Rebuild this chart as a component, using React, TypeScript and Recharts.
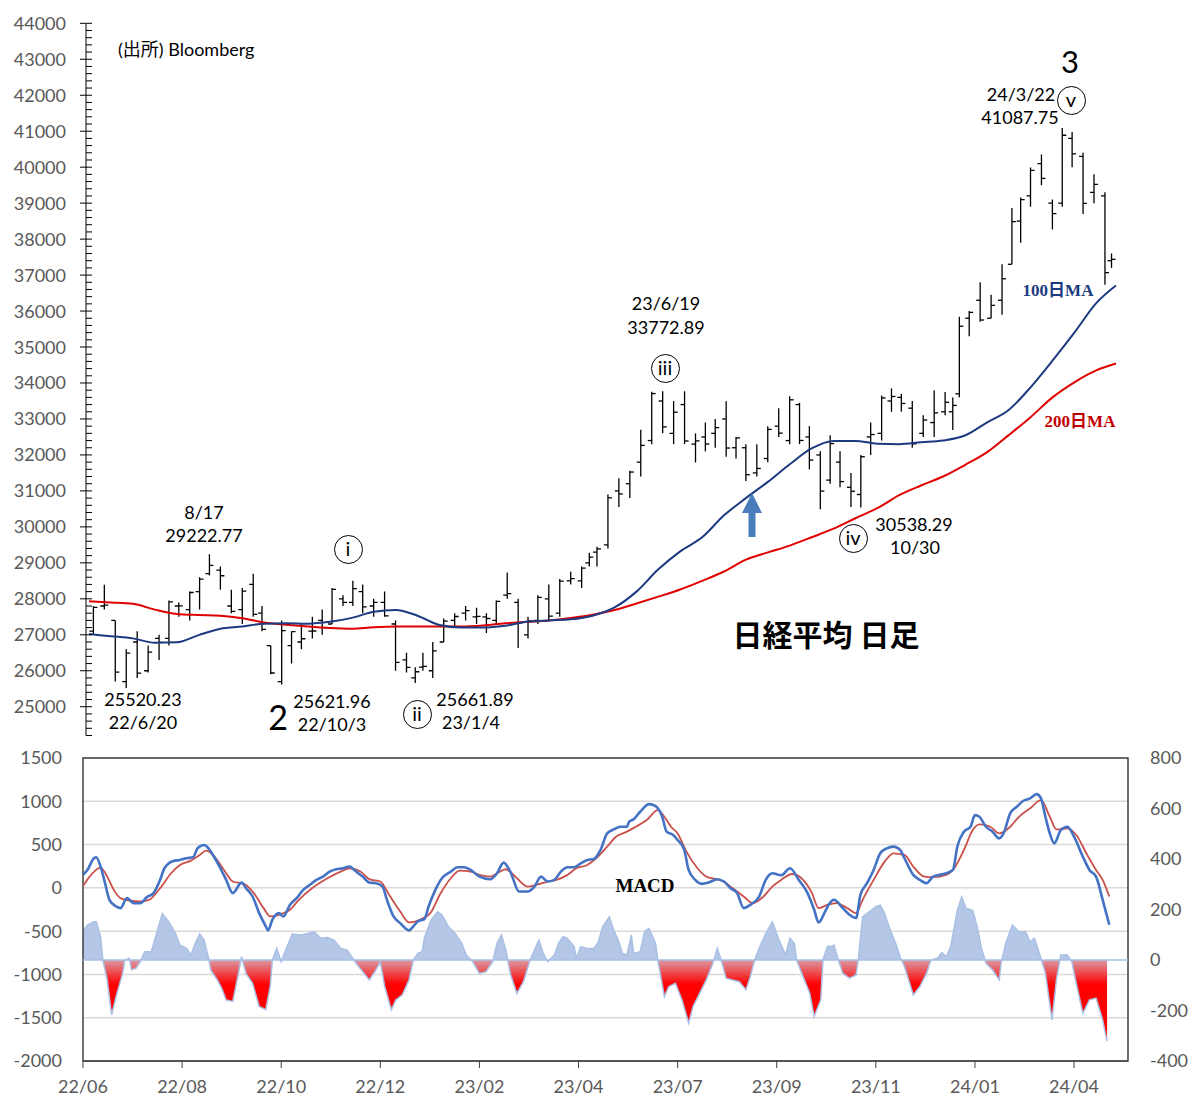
import React from "react";
import {
  ComposedChart,
  Bar,
  Line,
  Area,
  XAxis,
  YAxis,
  CartesianGrid,
  ReferenceLine,
  ReferenceArea,
} from "recharts";

// 週足OHLC (22/5/30週〜24/4/22)。営業日数で横位置を決める
const weekDays = [
  5, 5, 5, 5, 5, 5, 5, 4, 5, 5, 4, 5, 5, 5, 5, 5, 3, 5, 5, 4, 5, 5, 4, 5, 5, 4, 5, 5, 5, 5, 5,
  3, 4, 5, 5, 5, 5, 5, 4, 5, 5, 5, 4, 5, 5, 5, 5, 5, 2, 5, 5, 5, 5, 5, 5, 5, 5, 5, 5, 4, 5, 5, 4, 5, 5, 5, 5, 5, 4, 5, 5, 4, 5, 5, 4, 5, 5, 4, 5, 5, 5, 5, 5,
  2, 4, 5, 5, 5, 5, 4, 4, 5, 5, 5, 4, 5, 5, 5, 5, 1,
];
const wOpen = [
  27100, 27800, 27400, 25700, 26800, 26000, 26900, 26900, 27800, 27700, 28200, 28700, 28800, 27800, 27700, 28400, 27600, 26700, 25700, 26700, 26800, 27100, 27400, 27300, 28000, 27900, 28200, 27800, 27900, 27300, 26300,
  25800, 26100, 26000, 26800, 27400, 27600, 27500, 27500, 27400, 28100, 27900, 27000, 27400, 28000, 27600, 28500, 28500, 29000, 29300, 29500, 31000, 31200, 31800, 32400, 33500, 32600, 33400, 32300, 32500, 32600, 33000, 32200, 32200, 31500, 31900, 32800, 32400, 33400, 32500, 32000, 31300, 31800, 31100, 30900, 32500, 32600, 33500, 33600, 33300, 32600, 32900, 33200,
  33200, 33700, 35800, 36300, 35800, 36300, 37300, 38500, 39200, 40100, 39000, 39000, 40800, 40300, 39300, 39200, 37400,
];
const wHigh = [
  27800, 28389, 27400, 26600, 27100, 26700, 27000, 27950, 27900, 28200, 28600, 29240, 28900, 28250, 28300, 28700, 27800, 26700, 27400, 27100, 27300, 27500, 27700, 28300, 28100, 28500, 28400, 28000, 28200, 27400, 26500,
  26100, 26500, 26800, 27450, 27600, 27800, 27750, 27600, 27950, 28730, 28000, 27500, 28100, 28400, 28550, 28750, 28900, 29280, 29450, 30900, 31350, 31560, 32700, 33760, 33773, 33500, 33770, 32600, 32900, 33000, 33490, 32500, 32300, 32300, 32800, 33300, 33634, 33450, 32800, 32100, 32550, 32100, 31500, 32000, 32900, 33650, 33850, 33700, 33500, 33100, 33800, 33750,
  33600, 35840, 36000, 36800, 36450, 37300, 38865, 39160, 39990, 40350, 39100, 41088, 40980, 40400, 39800, 39300, 37600,
];
const wLow = [
  27000, 27700, 25700, 25520, 25800, 25950, 26300, 26700, 27500, 27400, 27700, 28650, 28250, 27600, 27300, 27500, 27100, 25900, 25621, 26200, 26600, 26900, 27000, 27300, 27800, 27800, 27600, 27500, 27500, 26000, 25950,
  25661, 26000, 25800, 26800, 27200, 27400, 27300, 27050, 27300, 28000, 26632, 26900, 27300, 27400, 27500, 28400, 28300, 28900, 28900, 29400, 30550, 30800, 31400, 32300, 32600, 32300, 32300, 31790, 32100, 32200, 31950, 31900, 31275, 31400, 31800, 32500, 32300, 32300, 31600, 30487, 31200, 31100, 30550, 30538, 32000, 32400, 33200, 33200, 32200, 32500, 32500, 33100,
  32690, 33600, 35300, 35700, 35800, 35900, 37300, 37900, 38900, 39500, 38270, 38900, 40000, 38700, 39000, 36733, 37200,
];
const wClose = [
  27761, 27824, 25963, 26491, 25935, 26517, 26788, 27915, 27801, 28175, 28547, 28930, 28641, 27650, 28214, 27567, 27153, 25937, 27116, 27090, 26890, 27105, 27199, 28263, 27899, 28283, 27777, 27901, 27527, 26235, 26094,
  25973, 26119, 26553, 27382, 27509, 27670, 27513, 27453, 27927, 28143, 27333, 27385, 28041, 27518, 28493, 28564, 28856, 29157, 29388, 30808, 30916, 31524, 32265, 33706, 32781, 33189, 32388, 32391, 32304, 32759, 32192, 32473, 31450, 31624, 32710, 32606, 33533, 32402, 31857, 30994, 32315, 31259, 30991, 31950, 32568, 33585, 33625, 33431, 32307, 32970, 33169, 33464,
  33377, 35577, 35963, 35751, 36158, 36897, 38487, 39098, 39910, 39688, 38707, 40888, 40369, 38992, 39523, 37068, 37438,
];

// 移動平均 (営業日番号ごと)
const maDays = [
  0, 10, 20, 30, 40, 50, 60, 70, 80, 90, 100, 110, 120, 130, 140, 150, 160, 170, 180, 190, 200, 210, 220, 230,
  240, 250, 260, 270, 280, 290, 300, 310, 320, 330, 340, 350, 360, 370, 380, 390, 400, 410, 420, 430, 440, 450, 460, 469,
];
const ma100 = [
  27020, 26960, 26900, 26780, 26790, 26990, 27170, 27230, 27310, 27320, 27310, 27360, 27470, 27640, 27690, 27530, 27270, 27200, 27200, 27250, 27360, 27400, 27430, 27530,
  27760, 28200, 28820, 29320, 29710, 30320, 30800, 31250, 31740, 32180, 32390, 32390, 32310, 32300, 32350, 32400, 32540, 32900, 33250, 33880, 34620, 35400, 36220, 36710,
];
const ma200 = [
  27930, 27900, 27860, 27700, 27580, 27550, 27530, 27460, 27340, 27280, 27230, 27190, 27170, 27210, 27230, 27230, 27230, 27230, 27260, 27320, 27360, 27400, 27470, 27560,
  27690, 27870, 28060, 28260, 28500, 28760, 29090, 29290, 29480, 29710, 29950, 30240, 30520, 30880, 31150, 31400, 31720, 32070, 32550, 33050, 33600, 34020, 34350, 34540,
];

// MACD [営業日番号, 値]
const macdLine: [number, number][] = [
  [0, 150], [2, 207], [5, 342], [6, 353], [8, 246], [10, 54], [12, -138], [15, -215], [17, -234], [20, -119], [23, -177], [26, -177], [29, -107], [32, -61], [35, 92], [37, 226], [41, 311], [44, 322], [47, 342], [50, 353], [52, 457], [55, 495], [57, 457], [59, 380], [62, 246], [65, 92], [68, -61], [72, 61], [74, -4], [77, -100], [80, -292], [83, -445], [84, -491], [86, -368], [89, -292], [91, -330], [94, -196], [97, -119], [100, -23], [103, 35], [106, 92], [109, 130], [112, 188], [115, 215], [118, 226], [121, 246], [124, 188], [127, 130], [130, 61], [133, 54], [136, 15], [138, -138], [141, -330], [144, -407], [148, -491], [150, -445], [152, -388], [155, -361], [157, -210], [160, -23], [163, 110], [167, 188], [170, 238], [173, 238], [176, 207], [180, 130], [185, 100], [188, 169], [191, 292], [194, 188], [198, -42], [202, -42], [205, 15], [208, 130], [211, 73], [214, 92], [217, 188], [220, 238], [223, 238], [226, 284], [229, 322], [232, 334], [235, 438], [238, 629], [241, 675], [244, 706], [247, 706], [248, 764], [250, 791], [253, 879], [257, 967], [260, 944], [263, 821], [265, 649], [268, 610], [270, 553], [273, 438], [275, 207], [278, 92], [281, 46], [284, 61], [288, 100], [291, 73], [294, -4], [297, -61], [300, -234], [303, -196], [307, -100], [310, 92], [313, 169], [317, 145], [321, 226], [325, 92], [329, -61], [332, -253], [334, -399], [337, -272], [339, -177], [341, -138], [345, -234], [348, -311], [351, -349], [353, -81], [356, 54], [359, 207], [362, 399], [365, 457], [368, 476], [371, 438], [373, 342], [377, 150], [380, 92], [383, 54], [386, 130], [389, 150], [392, 169], [395, 207], [397, 476], [400, 649], [403, 706], [405, 840], [407, 821], [410, 706], [413, 649], [416, 572], [418, 629], [421, 860], [424, 937], [427, 1006], [430, 1033], [433, 1083], [435, 1033], [437, 821], [439, 629], [441, 514], [444, 668], [447, 706], [450, 591], [454, 361], [457, 207], [460, 130], [463, -138], [466, -426],
];
const signalLine: [number, number][] = [
  [0, 20], [3, 130], [8, 234], [11, 130], [14, -23], [17, -119], [21, -146], [26, -157], [30, -138], [35, -4], [40, 169], [44, 265], [49, 315], [53, 380], [56, 430], [59, 380], [64, 207], [68, 73], [73, 46], [77, -42], [82, -234], [85, -330], [89, -311], [94, -253], [98, -138], [104, -4], [111, 111], [117, 188], [121, 226], [126, 188], [130, 100], [135, 73], [139, -81], [144, -272], [148, -399], [153, -368], [158, -282], [162, -80], [167, 111], [171, 200], [176, 188], [180, 150], [185, 130], [188, 169], [192, 215], [197, 111], [202, 15], [206, 35], [211, 73], [215, 92], [220, 150], [224, 226], [229, 265], [233, 342], [238, 476], [242, 591], [247, 649], [251, 706], [256, 783], [261, 898], [264, 821], [267, 706], [270, 629], [274, 418], [279, 226], [283, 130], [288, 100], [291, 73], [295, -4], [300, -100], [304, -177], [309, -100], [313, 15], [317, 92], [322, 160], [327, 92], [331, -61], [334, -234], [338, -196], [342, -177], [347, -234], [351, -292], [354, -138], [359, 92], [364, 303], [368, 399], [373, 380], [377, 246], [382, 130], [386, 123], [392, 150], [395, 207], [400, 438], [404, 668], [407, 733], [412, 706], [416, 629], [421, 706], [425, 821], [430, 917], [435, 1013], [439, 821], [442, 675], [447, 687], [451, 610], [456, 380], [460, 207], [463, 92], [466, -100],
];
const histogram: [number, number][] = [
  [0, 115], [2, 138], [5, 151], [6, 151], [8, 92], [9, 0], [11, -79], [13, -217], [15, -145], [18, -53], [19, 0], [21, 7], [22, -39], [24, -33], [26, -7], [28, 33], [31, 33], [33, 92], [36, 184], [39, 151], [42, 105], [44, 59], [47, 46], [49, 20], [51, 66], [53, 103], [55, 79], [57, 7], [58, -39], [61, -79], [63, -112], [65, -158], [68, -164], [70, -79], [72, 13], [74, -53], [77, -92], [80, -184], [83, -197], [85, -105], [86, 0], [88, 46], [90, -7], [92, 39], [95, 103], [99, 99], [102, 105], [105, 112], [108, 86], [111, 89], [114, 79], [117, 46], [120, 39], [122, 13], [124, -13], [127, -46], [130, -79], [133, -39], [135, -7], [137, -105], [140, -197], [142, -158], [145, -138], [148, -79], [150, 0], [152, 26], [154, 33], [155, 86],
  [158, 158], [161, 191], [163, 178], [166, 132], [169, 105], [172, 66], [174, 20], [177, -7], [180, -53], [183, -46], [186, -7], [188, 66], [190, 99], [192, 39], [194, -53], [197, -132], [200, -86], [203, 0], [205, 39], [207, 79], [209, 26], [211, -7], [214, 20], [216, 66], [218, 92], [220, 86], [223, 53], [224, 7], [226, 53], [229, 46], [232, 46], [234, 72], [236, 132], [239, 171], [241, 118], [243, 79], [245, 26], [247, 20], [249, 99], [250, 26], [253, 33], [255, 112], [257, 125], [260, 66], [261, 0], [264, -145], [266, -105], [269, -92], [272, -158], [275, -250], [277, -184], [280, -132], [283, -79], [286, -13], [288, 46], [290, -7], [292, -72], [295, -79], [298, -86], [301, -118], [303, -66], [305, 0], [307, 46], [310, 105], [313, 151], [316, 80],
  [319, 20], [321, 86], [323, 66], [324, 0], [327, -66], [330, -132], [332, -224], [335, -158], [336, 0], [338, 53], [340, 53], [341, 59], [343, 0], [345, -53], [348, -72], [351, -59], [352, 0], [354, 171], [357, 191], [360, 211], [362, 217], [364, 184], [366, 132], [369, 66], [371, 13], [373, -26], [377, -138], [380, -105], [383, -53], [385, 0], [388, 7], [390, 29], [392, 13], [394, 53], [397, 197], [399, 250], [401, 204], [404, 197], [406, 132], [408, 46], [410, -13], [413, -39], [416, -79], [417, -7], [419, 66], [422, 138], [425, 112], [428, 112], [430, 72], [432, 86], [435, 7], [437, -53], [440, -237], [442, -79], [444, 20], [447, 20], [449, -7], [451, -92], [454, -211], [457, -158], [460, -151], [463, -237], [465, -322],
];

const tickDays = [0, 45, 90, 135, 180, 225, 270, 315, 360, 405, 450];
const tickLabels = ["22/06", "22/08", "22/10", "22/12", "23/02", "23/04", "23/07", "23/09", "23/11", "24/01", "24/04"];

const SANS = "Lato, 'Noto Sans CJK JP', sans-serif";
const SERIF = "'Liberation Serif', 'Noto Sans CJK JP', serif";

type Row = { d: number; [k: string]: number };

function rowAt(rows: Map<number, Row>, d: number): Row {
  let r = rows.get(d);
  if (!r) {
    r = { d };
    rows.set(d, r);
  }
  return r;
}

const priceRows = new Map<number, Row>();
let dayStart = 0;
weekDays.forEach((n, i) => {
  const r = rowAt(priceRows, dayStart + (n - 1) / 2);
  r.o = wOpen[i];
  r.h = wHigh[i];
  r.l = wLow[i];
  r.c = wClose[i];
  dayStart += n;
});
maDays.forEach((d, i) => {
  const r = rowAt(priceRows, d);
  r.ma100 = ma100[i];
  r.ma200 = ma200[i];
});
const priceData = [...priceRows.values()].sort((a, b) => a.d - b.d);

const macdRows = new Map<number, Row>();
macdLine.forEach(([d, v]) => (rowAt(macdRows, d).m = v));
signalLine.forEach(([d, v]) => (rowAt(macdRows, d).s = v));
histogram.forEach(([d, v]) => (rowAt(macdRows, d).hist = v));
const macdData = [...macdRows.values()].sort((a, b) => a.d - b.d);

const hMax = Math.max(...histogram.map((p) => p[1]));
const hMin = Math.min(...histogram.map((p) => p[1]));
const zeroOff = hMax / (hMax - hMin);

const priceTicks = Array.from({ length: 100 }, (_, i) => 24200 + i * 200);

function OhlcShape(p: any) {
  const r = p.payload;
  if (!r || r.h == null || !isFinite(p.y) || !isFinite(p.height)) return null;
  const cx = p.x + p.width / 2;
  const top = Math.min(p.y, p.y + p.height);
  const len = Math.abs(p.height);
  const at = (v: number) => top + ((r.h - v) / (r.h - r.l)) * len;
  return (
    <g stroke="#000" strokeWidth={1.3}>
      <line x1={cx} x2={cx} y1={top} y2={top + len} />
      <line x1={cx - 4} x2={cx} y1={at(r.o)} y2={at(r.o)} />
      <line x1={cx} x2={cx + 4} y1={at(r.c)} y2={at(r.c)} />
    </g>
  );
}

function PriceTick(p: any) {
  const v = p.payload.value;
  const major = v % 1000 === 0;
  return (
    <g>
      <line x1={major ? p.x - 6 : p.x} x2={p.x + 6} y1={p.y} y2={p.y} stroke="#000" strokeWidth={1} />
      {major && (
        <text x={p.x - 20} y={p.y} dy={6.5} textAnchor="end" fill="#595959" fontSize={18} fontFamily={SANS}>
          {v}
        </text>
      )}
    </g>
  );
}

function Note({ x, y, size = 18, color = "#000", bold = false, font = SANS, children }: any) {
  return (
    <div
      style={{
        position: "absolute",
        left: x,
        top: y,
        transform: "translate(-50%, -50%)",
        fontSize: size,
        lineHeight: 1,
        color,
        fontWeight: bold ? 700 : 400,
        fontFamily: font,
        whiteSpace: "nowrap",
      }}
    >
      {children}
    </div>
  );
}

function Circled({ x, y, children }: any) {
  return (
    <div
      style={{
        position: "absolute",
        left: x - 14.5,
        top: y - 14.5,
        width: 29,
        height: 29,
        border: "1.3px solid #000",
        borderRadius: "50%",
        boxSizing: "border-box",
        display: "flex",
        alignItems: "center",
        justifyContent: "center",
        fontSize: 20,
        lineHeight: 1,
        fontFamily: SANS,
        paddingBottom: 2,
      }}
    >
      {children}
    </div>
  );
}

export default function App() {
  return (
    <div
      style={{
        position: "fixed",
        left: 0,
        top: 0,
        width: 1190,
        height: 1099,
        overflow: "hidden",
        background: "#fff",
        fontFamily: SANS,
      }}
    >
      <div style={{ position: "absolute", left: 8, top: 8 }}>
        <ComposedChart
          width={1140}
          height={745}
          data={priceData}
          margin={{ top: 15.3, right: 20, bottom: 17.5, left: 0 }}
        >
          <XAxis dataKey="d" type="number" domain={[-1.4, 474.5]} hide allowDataOverflow />
          <YAxis
            domain={[24200, 44000]}
            ticks={priceTicks}
            interval={0}
            width={78}
            tickSize={0}
            tickMargin={0}
            tickLine={false}
            axisLine={{ stroke: "#000", strokeWidth: 1 }}
            tick={<PriceTick />}
            allowDataOverflow
          />
          <Line dataKey="ma200" type="monotone" stroke="#E00000" strokeWidth={2} dot={false} connectNulls isAnimationActive={false} />
          <Line dataKey="ma100" type="monotone" stroke="#1C3A80" strokeWidth={2} dot={false} connectNulls isAnimationActive={false} />
          <Bar
            dataKey={(r: Row) => (r.h != null ? [r.l, r.h] : null)}
            barSize={8}
            shape={(p: any) => <OhlcShape {...p} />}
            isAnimationActive={false}
          />
        </ComposedChart>
      </div>

      <div style={{ position: "absolute", left: 8, top: 745 }}>
        <ComposedChart width={1182} height={354} data={macdData} margin={{ top: 13, right: 0, bottom: 0, left: 0 }}>
          <defs>
            <linearGradient id="histFill" x1="0" y1="0" x2="0" y2="1">
              <stop offset={0} stopColor="#B4C7E7" />
              <stop offset={zeroOff} stopColor="#B4C7E7" />
              <stop offset={zeroOff} stopColor="#DB9AA2" />
              <stop offset={Math.min(1, zeroOff + 0.17)} stopColor="#FF0000" />
              <stop offset={1} stopColor="#FF0000" />
            </linearGradient>
          </defs>
          <CartesianGrid yAxisId="l" vertical={false} stroke="#D9D9D9" strokeWidth={1.5} />
          <XAxis
            dataKey="d"
            type="number"
            domain={[0, 474.5]}
            ticks={tickDays}
            interval={0}
            tickFormatter={(v: number) => tickLabels[tickDays.indexOf(v)]}
            height={38}
            tickSize={7}
            tickMargin={12}
            tickLine={{ stroke: "#404040" }}
            axisLine={{ stroke: "#404040" }}
            tick={{ fontSize: 18, fill: "#595959", fontFamily: SANS }}
            allowDataOverflow
          />
          <YAxis
            yAxisId="l"
            domain={[-2000, 1500]}
            ticks={[-2000, -1500, -1000, -500, 0, 500, 1000, 1500]}
            interval={0}
            width={75}
            tickSize={0}
            tickMargin={21}
            axisLine={false}
            tickLine={false}
            tick={{ fontSize: 18, fill: "#595959", fontFamily: SANS }}
          />
          <YAxis
            yAxisId="r"
            orientation="right"
            domain={[-400, 800]}
            ticks={[-400, -200, 0, 200, 400, 600, 800]}
            interval={0}
            width={62}
            tickSize={0}
            tickMargin={22}
            axisLine={false}
            tickLine={false}
            tick={{ fontSize: 18, fill: "#595959", fontFamily: SANS }}
          />
          <Area
            yAxisId="r"
            dataKey="hist"
            type="linear"
            baseValue={0}
            connectNulls
            fill="url(#histFill)"
            fillOpacity={1}
            stroke="#A9C0E4"
            strokeWidth={1.5}
            dot={false}
            activeDot={false}
            isAnimationActive={false}
          />
          <ReferenceLine yAxisId="r" y={0} stroke="#A9C0E4" strokeWidth={1.5} />
          <Line yAxisId="l" dataKey="s" type="monotone" stroke="#C9504B" strokeWidth={1.8} dot={false} connectNulls isAnimationActive={false} />
          <Line yAxisId="l" dataKey="m" type="monotone" stroke="#4472C4" strokeWidth={2.6} dot={false} connectNulls isAnimationActive={false} />
          <ReferenceArea
            yAxisId="l"
            x1={0}
            x2={474.5}
            y1={-2000}
            y2={1500}
            fill="none"
            stroke="#404040"
            strokeWidth={1.5}
            ifOverflow="visible"
          />
        </ComposedChart>
      </div>

      <div style={{ position: "absolute", left: 118, top: 49, transform: "translateY(-50%)", fontSize: 18, lineHeight: 1, fontFamily: SANS }}>
        (出所) Bloomberg
      </div>

      <Note x={204} y={512}>8/17</Note>
      <Note x={204} y={535}>29222.77</Note>
      <Note x={143} y={699}>25520.23</Note>
      <Note x={143} y={722}>22/6/20</Note>
      <Note x={278} y={717} size={34}>2</Note>
      <Note x={332} y={701}>25621.96</Note>
      <Note x={332} y={724}>22/10/3</Note>
      <Note x={475} y={699}>25661.89</Note>
      <Note x={471} y={722}>23/1/4</Note>
      <Note x={666} y={303}>23/6/19</Note>
      <Note x={666} y={327}>33772.89</Note>
      <Note x={914} y={524}>30538.29</Note>
      <Note x={915} y={547}>10/30</Note>
      <Note x={1021} y={94}>24/3/22</Note>
      <Note x={1020} y={117}>41087.75</Note>
      <Note x={1070} y={61} size={31}>3</Note>

      <Circled x={348} y={549}>i</Circled>
      <Circled x={417} y={714}>ii</Circled>
      <Circled x={665} y={368}>iii</Circled>
      <Circled x={853} y={538}>iv</Circled>
      <Circled x={1071} y={100}>v</Circled>

      <Note x={826} y={633} size={30} bold font="'Noto Sans CJK JP', sans-serif">
        日経平均 日足
      </Note>
      <Note x={1058} y={290} size={17} bold color="#1C3A80" font={SERIF}>
        100日MA
      </Note>
      <Note x={1080} y={421} size={17} bold color="#C00000" font={SERIF}>
        200日MA
      </Note>
      <Note x={645} y={885} size={19} bold font={SERIF}>
        MACD
      </Note>

      <svg width={1190} height={1099} style={{ position: "absolute", left: 0, top: 0, pointerEvents: "none" }}>
        <polygon points="752,493 742,513 748.5,513 748.5,537 755.5,537 755.5,513 762,513" fill="#4A7EBB" />
      </svg>
    </div>
  );
}
